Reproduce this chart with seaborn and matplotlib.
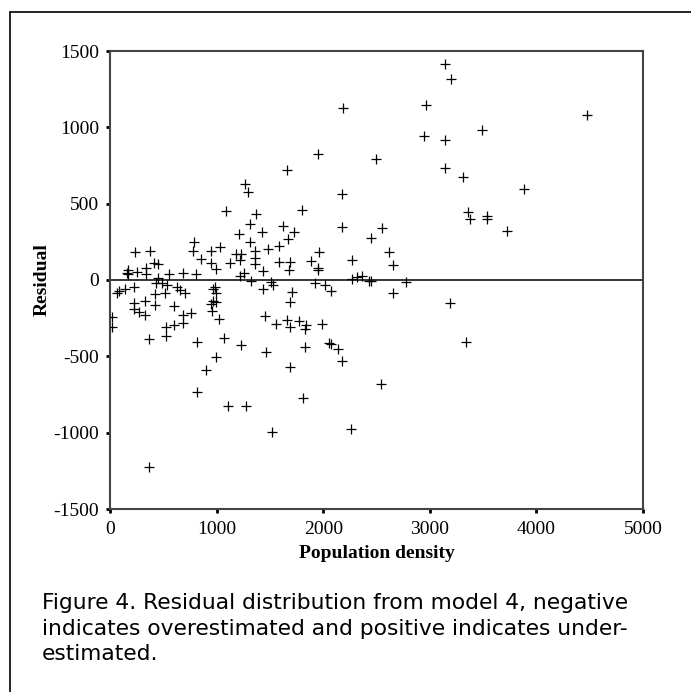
import pandas as pd
import matplotlib.pyplot as plt
import seaborn as sns

# population density vs. residual (model 4)
density = [231, 375, 165, 165, 256, 337, 337, 415, 449, 549, 686, 811, 786, 780,
           849, 946, 1030, 952, 992, 1130, 1186, 1233, 1217, 1092, 1267, 1295,
           1367, 1317, 1211, 1430, 1317, 1358, 1358, 1358, 1482, 1585, 1623,
           1673, 1723, 1664, 1582, 1685, 1676, 1255, 1217, 1435, 1801, 156,
           3140, 3202, 2185, 2965, 3486, 2950, 3140, 1951, 2494, 3140, 3308,
           2172, 3361, 3374, 3533, 3533, 3720, 2172, 2556, 2444, 1960, 2619,
           1888, 2269, 2656, 1951, 1951, 2778, 4479, 3880,
           1923, 2013, 2069, 2272, 2316, 2360, 2428, 2453, 1704, 1692, 2653,
           3190, 1660, 1772, 1842, 1692, 1826, 1985, 2054, 2076, 2138, 2172,
           1826, 1692, 3340, 2544, 1810, 2260,
           16, 16, 62, 81, 137, 228, 228, 228, 274, 328, 328, 424, 424, 452,
           431, 484, 515, 531, 599, 624, 655, 705, 686, 686, 599, 524, 524,
           756, 368, 362, 817, 817, 899, 992, 1067, 1108, 1280, 1230, 1461,
           1517, 967, 992, 952, 967, 999, 961, 1023, 983, 1327, 1435, 1514,
           1529, 1451, 1554]
residual = [183, 192, 65, 37, 55, 76, 37, 113, 103, 37, 44, 37, 247, 192,
            140, 192, 218, 109, 74, 113, 168, 168, 131, 452, 629, 578,
            434, 369, 299, 314, 247, 190, 142, 105, 203, 225, 356,
            267, 312, 721, 120, 120, 65, 48, 26, 57, 459, 44,
            1415, 1319, 1127, 1149, 983, 945, 919, 825, 790, 732, 677,
            563, 443, 398, 421, 398, 321, 347, 338, 275, 183, 183,
            124, 131, 96, 65, 80, -10, 1083, 596,
            -18, -35, -70, 7, 22, 26, -7, -7, -81, -142, -87,
            -148, -262, -269, -295, -310, -323, -286, -411, -419, -454, -528,
            -437, -568, -408, -681, -775, -976,
            -240, -306, -83, -70, -61, -44, -149, -192, -207, -229, -135, -92, -164, 10,
            -17, -22, -87, -35, -170, -44, -65, -87, -229, -279, -295, -310, -367,
            -218, -389, -1227, -408, -731, -590, -507, -382, -825, -825, -426, -470,
            -994, -61, -83, -159, -135, -142, -201, -257, -44, -5, -61, -11,
            -31, -236, -288]

x_ticks = [0, 1000, 2000, 3000, 4000, 5000]
y_ticks = [-1500, -1000, -500, 0, 500, 1000, 1500]
caption = ("Figure 4. Residual distribution from model 4, negative\n"
           "indicates overestimated and positive indicates under-\n"
           "estimated.")

sns.set_theme(style="white")
plt.rcParams["font.family"] = ["Liberation Serif", "DejaVu Serif"]
plt.rcParams["axes.unicode_minus"] = False
for key in ["text.color", "axes.labelcolor", "xtick.labelcolor", "ytick.labelcolor"]:
    plt.rcParams[key] = "black"

df = pd.DataFrame({"density": density, "residual": residual})

W, H = 691, 692
fig = plt.figure(figsize=(W / 100, H / 100), dpi=100)
ax = fig.add_axes([110 / W, 1 - 509 / H, 533 / W, 458 / H])

sns.scatterplot(data=df, x="density", y="residual", marker="+", color="black",
                s=45, linewidth=0.9, ax=ax, legend=False, zorder=3)
ax.axhline(0, color="black", lw=1.1, zorder=1)

ax.set_xlim(0, 5000)
ax.set_ylim(-1500, 1500)
ax.set_xticks(x_ticks)
ax.set_yticks(y_ticks)
ax.tick_params(axis="both", direction="out", length=3, width=2, color="black",
               labelsize=14, bottom=True, left=True)
ax.tick_params(axis="x", pad=6)
ax.tick_params(axis="y", pad=5)
for sp in ax.spines.values():
    sp.set_color("#444444")
    sp.set_linewidth(1.5)

ax.set_xlabel("Population density", fontsize=14, fontweight="bold", va="center")
ax.set_ylabel("Residual", fontsize=14, fontweight="bold", va="center")
ax.xaxis.set_label_coords(0.5, (509 - 554) / 458)
ax.yaxis.set_label_coords((42 - 110) / 533, 0.5)

# caption under the chart
fig.text(42 / W, 1 - 593 / H, caption, ha="left", va="top",
         family=["DejaVu Sans"], fontsize=15.7, linespacing=1.35)

# outer frame: only top and left edges are visible in the crop
fig.add_artist(plt.Line2D([10 / W, 10 / W], [1 - 12 / H, 0], transform=fig.transFigure,
                          color="black", lw=1.2))
fig.add_artist(plt.Line2D([10 / W, 1], [1 - 12 / H, 1 - 12 / H], transform=fig.transFigure,
                          color="black", lw=1.2))

fig.savefig("out.png", dpi=100)
